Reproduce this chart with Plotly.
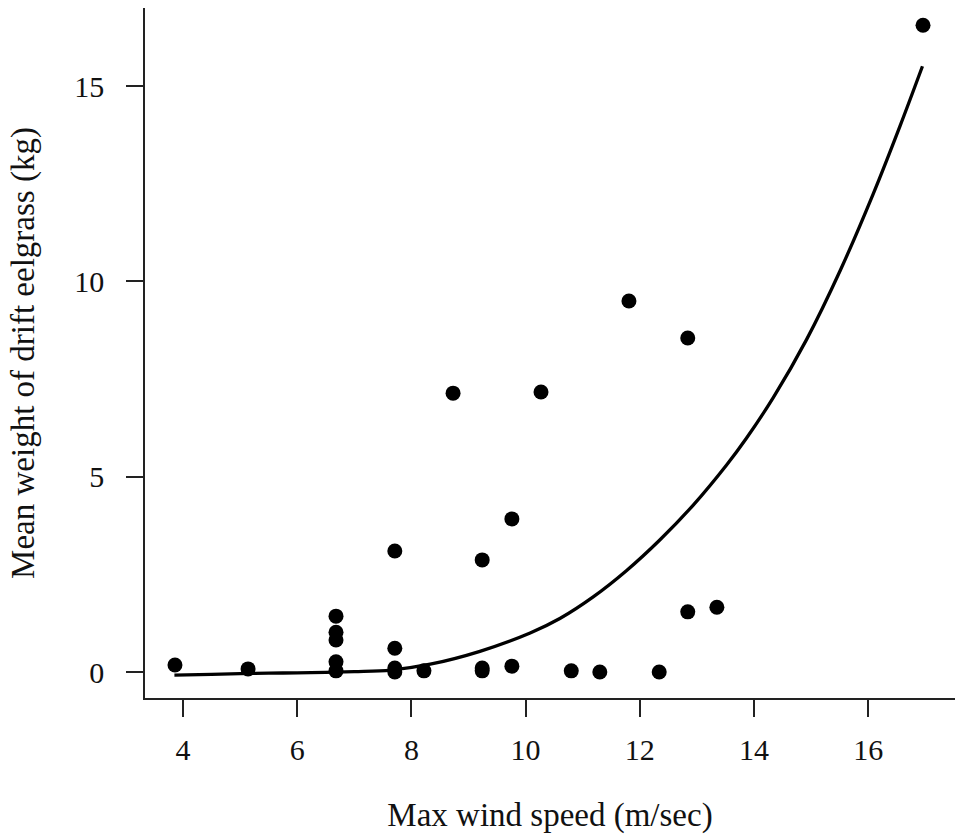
import plotly.graph_objects as go

# Observed data (max wind speed m/sec, mean weight of drift eelgrass kg)
wind_speed = [3.86, 5.14, 6.68, 6.68, 6.68, 6.68, 6.68, 7.71, 7.71, 7.71, 7.71,
              8.22, 8.73, 9.24, 9.24, 9.24, 9.76, 9.76, 10.27, 10.80, 11.30,
              11.81, 12.34, 12.84, 12.84, 13.35, 16.96]
eelgrass_kg = [0.18, 0.08, 1.43, 1.02, 0.82, 0.26, 0.03, 3.10, 0.61, 0.10, 0.0,
               0.03, 7.14, 2.87, 0.10, 0.03, 3.92, 0.15, 7.17, 0.03, 0.0,
               9.50, 0.0, 8.55, 1.54, 1.66, 16.56]

# Fitted curve
fit_x = [3.85, 4.5, 5.0, 5.5, 6.0, 6.5, 7.0, 7.64, 8.33, 9.2, 10.08, 10.6,
         11.19, 11.77, 12.35, 12.94, 13.52, 13.87, 14.34, 14.92, 15.51,
         16.09, 16.56, 16.95]
fit_y = [-0.08, -0.06, -0.04, -0.03, -0.02, -0.01, 0.01, 0.05, 0.2, 0.53, 1.0,
         1.37, 1.93, 2.60, 3.38, 4.28, 5.30, 5.99, 7.03, 8.51, 10.28, 12.25,
         13.99, 15.51]

x_ticks = [4, 6, 8, 10, 12, 14, 16]
y_ticks = [0, 5, 10, 15]

FONT = "Liberation Serif"

fig = go.Figure()
fig.add_trace(go.Scatter(
    x=fit_x, y=fit_y, mode="lines",
    line=dict(color="black", width=3.3, shape="spline", smoothing=1.0),
    hoverinfo="skip", showlegend=False))
fig.add_trace(go.Scatter(
    x=wind_speed, y=eelgrass_kg, mode="markers",
    marker=dict(color="black", size=15, line=dict(width=0)),
    showlegend=False))

fig.update_layout(
    width=955, height=838,
    margin=dict(l=145, r=0, t=8, b=140),
    plot_bgcolor="white", paper_bgcolor="white",
    font=dict(family=FONT, size=30, color="#111"),
)
fig.update_xaxes(
    range=[3.335, 17.52], tickvals=x_ticks, ticktext=[str(v) for v in x_ticks],
    showgrid=False, zeroline=False, showline=True, linecolor="#222", linewidth=1.5,
    ticks="outside", ticklen=17, tickwidth=1.5, tickcolor="#222",
    tickfont=dict(family=FONT, size=30),
    ticklabelstandoff=7,
    title=dict(text="Max wind speed (m/sec)", font=dict(family=FONT, size=33), standoff=38),
)
fig.update_yaxes(
    range=[-0.665, 17.0], tickvals=y_ticks, ticktext=[str(v) for v in y_ticks],
    showgrid=False, zeroline=False, showline=True, linecolor="#222", linewidth=1.5,
    ticks="outside", ticklen=17, tickwidth=1.5, tickcolor="#222",
    tickfont=dict(family=FONT, size=30),
    ticklabelstandoff=16,
    title=dict(text="Mean weight of drift eelgrass (kg)", font=dict(family=FONT, size=33), standoff=30),
)

fig.write_html("out.html")
